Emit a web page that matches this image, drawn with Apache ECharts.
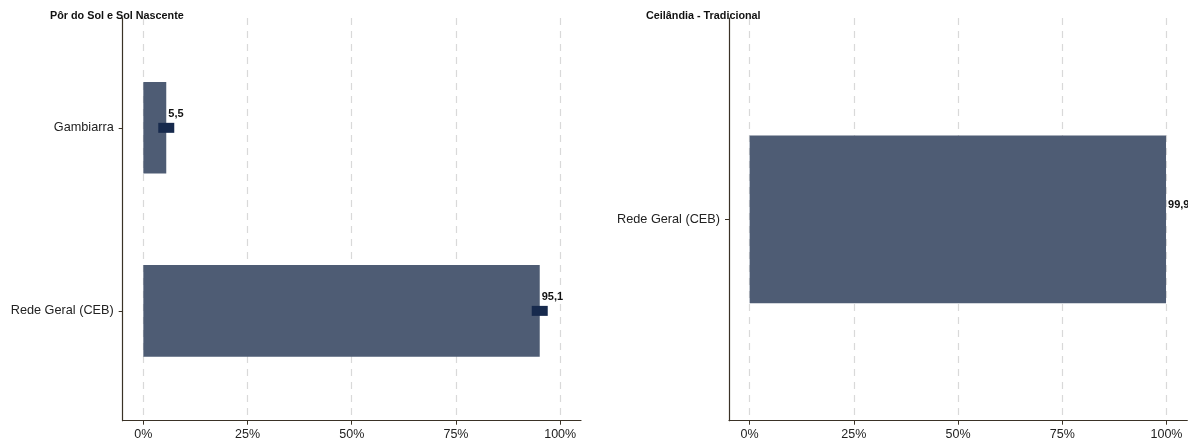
<!DOCTYPE html>
<html>
<head>
<meta charset="utf-8">
<script src="https://cdn.jsdelivr.net/npm/echarts@6/dist/echarts.min.js"></script>
<style>
  html, body { margin: 0; padding: 0; background: #fff; }
  #chart { width: 1195px; height: 443px; }
</style>
</head>
<body>
<div id="chart"></div>
<script>
// ---- data ----
const panelTitles = ['Pôr do Sol e Sol Nascente', 'Ceilândia - Tradicional'];
const leftCategories = ['Rede Geral (CEB)', 'Gambiarra'];
const leftValues = [95.1, 5.5];
const leftMarkers = [95.1, 5.5];
const rightCategories = ['Rede Geral (CEB)'];
const rightValues = [99.9];
const xTicks = [0, 25, 50, 75, 100];

// ---- styles ----
const FONT = '"Liberation Sans", Arial, Helvetica, sans-serif';
const BAR_COLOR = '#4e5c74';
const MARK_COLOR = '#172a4d';
const AXIS_COLOR = '#3a3226';
const TEXT_COLOR = '#222';
const fmt = v => v.toFixed(1).replace('.', ',');

function pos(cats) { return cats.map((c, i) => i + 1); }

function makeX(gridIndex) {
  return {
    type: 'value', gridIndex, min: -4.95, max: 105,
    axisLine: { show: true, onZero: false, lineStyle: { color: AXIS_COLOR, width: 1.2 } },
    axisTick: { show: true, length: 4, customValues: xTicks, lineStyle: { color: AXIS_COLOR } },
    axisLabel: { customValues: xTicks, formatter: v => v + '%', margin: 7,
      color: TEXT_COLOR, fontSize: 12.5, fontFamily: FONT },
    splitLine: { show: true, lineStyle: { color: '#d9d9d9', width: 1.2, type: [7, 6] } }
  };
}
function makeY(gridIndex, cats) {
  return {
    type: 'value', gridIndex, min: 0.4, max: cats.length + 0.6,
    axisLine: { show: true, onZero: false, lineStyle: { color: AXIS_COLOR, width: 1.2 } },
    axisTick: { show: true, length: 4, customValues: pos(cats), lineStyle: { color: AXIS_COLOR } },
    axisLabel: { customValues: pos(cats), formatter: v => cats[Math.round(v) - 1] || '',
      margin: 9, color: TEXT_COLOR, fontSize: 12.7, fontFamily: FONT },
    splitLine: { show: false }
  };
}
function barSeries(idx, cats, values) {
  return {
    type: 'custom', xAxisIndex: idx, yAxisIndex: idx, clip: true,
    data: values.map((v, i) => [v, i + 1]),
    renderItem: (params, api) => {
      const v = api.value(0), y = api.value(1);
      const p0 = api.coord([0, y + 0.25]);
      const p1 = api.coord([v, y - 0.25]);
      const pe = api.coord([v, y]);
      return {
        type: 'group',
        children: [
          { type: 'rect', shape: { x: p0[0], y: p0[1], width: p1[0] - p0[0], height: p1[1] - p0[1] },
            style: { fill: BAR_COLOR } },
          { type: 'text', x: pe[0] + 2, y: pe[1] - 14, z2: 10,
            style: { text: fmt(v), fill: '#111', font: 'bold 11px ' + FONT,
                     align: 'left', verticalAlign: 'middle' } }
        ]
      };
    }
  };
}

const chart = echarts.init(document.getElementById('chart'), null, { renderer: 'canvas' });
chart.setOption({
  animation: false,
  backgroundColor: '#fff',
  title: [
    { text: panelTitles[0], left: 50, top: 11, padding: 0,
      textStyle: { fontSize: 10.8, fontWeight: 'bold', color: '#111', fontFamily: FONT } },
    { text: panelTitles[1], left: 646, top: 11, padding: 0,
      textStyle: { fontSize: 10.8, fontWeight: 'bold', color: '#111', fontFamily: FONT } }
  ],
  grid: [
    { left: 122.7, top: 18, width: 458.3, height: 402.7 },
    { left: 729, top: 18, width: 458.3, height: 402.7 }
  ],
  xAxis: [makeX(0), makeX(1)],
  yAxis: [makeY(0, leftCategories), makeY(1, rightCategories)],
  series: [
    barSeries(0, leftCategories, leftValues),
    {
      type: 'scatter', xAxisIndex: 0, yAxisIndex: 0, z: 5,
      symbol: 'rect', symbolSize: [16, 10],
      itemStyle: { color: MARK_COLOR, opacity: 1 },
      data: leftMarkers.map((v, i) => [v, i + 1])
    },
    barSeries(1, rightCategories, rightValues)
  ]
});
</script>
</body>
</html>
